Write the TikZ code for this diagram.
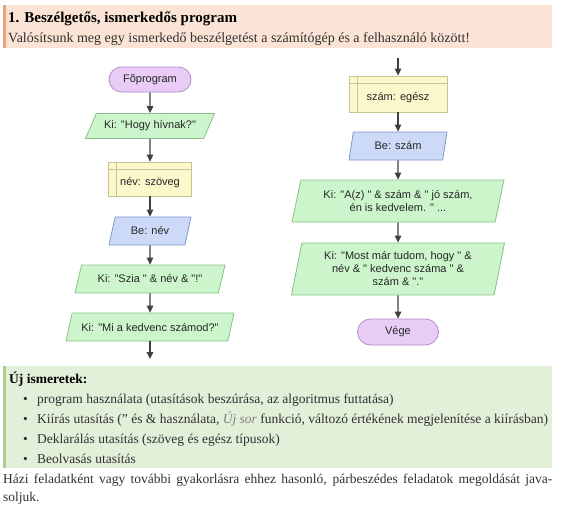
\documentclass[tikz,border=0pt]{standalone}
\usepackage{fontspec}
\setmainfont{Liberation Serif}
\newfontfamily\flowfont{Liberation Sans}
\usetikzlibrary{shapes.geometric,shapes.misc,arrows.meta}
\definecolor{hdrfill}{HTML}{FBE4D5}
\definecolor{hdrbar}{HTML}{EBA37E}
\definecolor{grnfill}{HTML}{E2EFD9}
\definecolor{grnbar}{HTML}{A8CF8C}
\definecolor{termfill}{HTML}{E8CCF5}
\definecolor{termdraw}{HTML}{B08CC8}
\definecolor{outfill}{HTML}{CCF5CC}
\definecolor{outdraw}{HTML}{88C088}
\definecolor{infill}{HTML}{CCDAF8}
\definecolor{indraw}{HTML}{7F98CC}
\definecolor{declfill}{HTML}{FBF8CC}
\definecolor{decldraw}{HTML}{C9C38F}
\definecolor{arrowc}{HTML}{404040}
\definecolor{txt}{HTML}{262626}
\definecolor{bodytxt}{HTML}{303030}
\newcommand{\lowered}[1]{\raisebox{-3.5pt}[\height][\depth]{#1}}
\begin{document}
\begin{tikzpicture}[x=1pt,y=-1pt,
  base/.style={font=\flowfont\fontsize{11}{13}\selectfont, text=txt, inner sep=1pt, line width=0.8pt, align=center},
  term/.style={base, rounded rectangle, fill=termfill, draw=termdraw},
  io/.style={base, trapezium, trapezium stretches body, trapezium left angle=#1, trapezium right angle=180-#1},
  outc/.style={fill=outfill, draw=outdraw},
  inc/.style={fill=infill, draw=indraw},
  decl/.style={base, rectangle, fill=declfill, draw=decldraw,
    path picture={
      \draw[decldraw, line width=0.6pt] ([xshift=8pt]path picture bounding box.north west) -- ([xshift=8pt]path picture bounding box.south west);
      \draw[decldraw, line width=0.6pt] ([yshift=-7pt]path picture bounding box.north west) -- ([yshift=-7pt]path picture bounding box.north east);}},
  arr/.style={draw=arrowc, line width=1.3pt, -{Triangle[length=7pt,width=6.5pt]}},
  bodytext/.style={font=\fontsize{13.5}{16}\selectfont, text=bodytxt, inner sep=0pt, anchor=base west}
]
\useasboundingbox (0,0) rectangle (565,514);
% header
\fill[hdrfill] (3,5) rectangle (552,48);
\fill[hdrbar] (3,5) rectangle (6,48);
\node[bodytext, font=\bfseries\fontsize{15}{18}\selectfont, text=black] (title) at (8,22) {1. Beszélgetős, ismerkedős program};
\node[bodytext, font=\fontsize{14}{16}\selectfont] (sub) at (8,42) {Valósítsunk meg egy ismerkedő beszélgetést a számítógép és a felhasználó között!};
% left column
\node[term, minimum width=84pt, minimum height=25pt] (start) at (150,79.5) {Fõprogram};
\node[io=49, outc, minimum width=129pt, minimum height=25pt] (hogy) at (150,126) {Ki: "Hogy hívnak?"};
\node[decl, minimum width=83pt, minimum height=34pt] (nev) at (150,179) {\lowered{név: szöveg}};
\node[io=59, inc, minimum width=82pt, minimum height=28pt] (benev) at (150,231) {Be: név};
\node[io=57, outc, minimum width=150pt, minimum height=28pt] (szia) at (150,279) {Ki: "Szia " \& név \& "!"};
\node[io=59, outc, minimum width=168pt, minimum height=28pt] (mi) at (150,327) {Ki: "Mi a kedvenc számod?"};
\coordinate (lend) at (150,359);
\draw[arr] (start) -- (hogy);
\draw[arr] (hogy) -- (nev);
\draw[arr] (nev) -- (benev);
\draw[arr] (benev) -- (szia);
\draw[arr] (szia) -- (mi);
\draw[arr] (mi) -- (lend);
% right column
\coordinate (rbeg) at (398,58);
\node[decl, minimum width=98pt, minimum height=36pt] (szam) at (398,94) {\lowered{szám: egész}};
\node[io=67, inc, minimum width=98pt, minimum height=28pt] (beszam) at (398,146) {Be: szám};
\node[io=69, outc, minimum width=212pt, minimum height=42pt] (az) at (398,201) {Ki: "A(z) " \& szám \& " jó szám,\\ én is kedvelem. " ...};
\node[io=74, outc, minimum width=213pt, minimum height=52pt] (most) at (398,269) {Ki: "Most már tudom, hogy " \&\\ név \& " kedvenc száma " \&\\ szám \& "."};
\node[term, minimum width=83pt, minimum height=26pt] (vege) at (398,332) {Vége};
\draw[arr] (rbeg) -- (szam);
\draw[arr] (szam) -- (beszam);
\draw[arr] (beszam) -- (az);
\draw[arr] (az) -- (most);
\draw[arr] (most) -- (vege);
% green box
\fill[grnfill] (3,366) rectangle (552,468);
\fill[grnbar] (3,366) rectangle (6,468);
\node[bodytext, font=\bfseries\fontsize{13.5}{16}\selectfont, text=black] (uj) at (9,383) {Új ismeretek:};
\node[bodytext] (b1) at (23,403) {•};
\node[bodytext] (t1) at (37,403) {program használata (utasítások beszúrása, az algoritmus futtatása)};
\node[bodytext] (b2) at (23,423) {•};
\node[bodytext] (t2) at (37,423) {Kiírás utasítás (” és \& használata, {\itshape\color{gray}Új sor} funkció, változó értékének megjelenítése a kiírásban)};
\node[bodytext] (b3) at (23,443) {•};
\node[bodytext] (t3) at (37,443) {Deklarálás utasítás (szöveg és egész típusok)};
\node[bodytext] (b4) at (23,463) {•};
\node[bodytext] (t4) at (37,463) {Beolvasás utasítás};
\node[bodytext] (h1) at (3,483) {\makebox[549pt][s]{Házi feladatként vagy további gyakorlásra ehhez hasonló, párbeszédes feladatok megoldását java-}};
\node[bodytext] (h2) at (3,501) {soljuk.};
\end{tikzpicture}
\end{document}
